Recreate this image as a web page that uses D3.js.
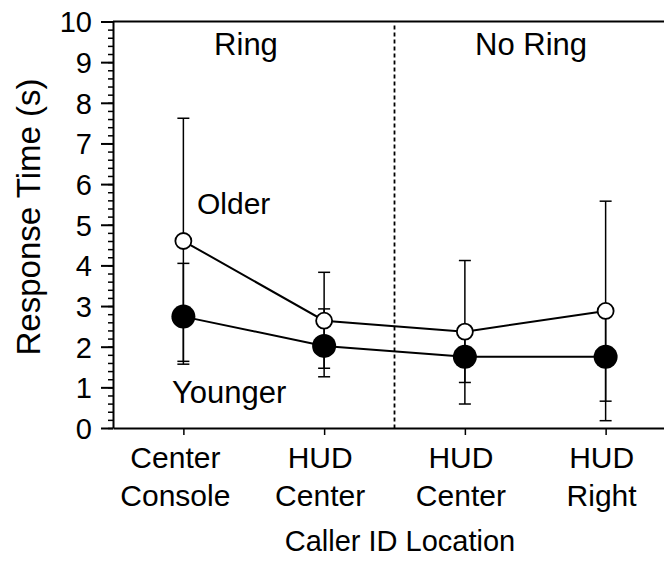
<!DOCTYPE html>
<html>
<head>
<meta charset="utf-8">
<script src="https://cdn.jsdelivr.net/npm/d3@7"></script>
<style>
  html, body { margin: 0; padding: 0; background: #fff; }
  svg { display: block; }
  text { font-family: "Liberation Sans", Arial, Helvetica, sans-serif; fill: #000; }
</style>
</head>
<body>
<svg id="chart" width="664" height="562"></svg>
<script>
// ---- data ----
const categoriesLine1 = ["Center", "HUD", "HUD", "HUD"];
const categoriesLine2 = ["Console", "Center", "Center", "Right"];
const olderMean  = [4.60, 2.64, 2.37, 2.88];
const olderUpper = [7.62, 3.83, 4.12, 5.58];
const olderLower = [1.57, 1.47, 0.59, 0.18];
const youngerMean  = [2.74, 2.02, 1.75, 1.75];
const youngerUpper = [4.05, 2.93, 2.38, 2.84];
const youngerLower = [1.64, 1.26, 1.12, 0.66];
const yTicks = [0, 1, 2, 3, 4, 5, 6, 7, 8, 9, 10];
const groupLabels = ["Ring", "No Ring"];
const seriesLabels = ["Older", "Younger"];
const yTitle = "Response Time (s)";
const xTitle = "Caller ID Location";

// ---- layout ----
const svg = d3.select("#chart");
const pLeft = 113, pRight = 676, pTop = 21.5, pBottom = 428;
const idx = d3.range(categoriesLine1.length);
const x = d3.scalePoint().domain(idx).range([pLeft, pRight]).padding(0.5);
const y = d3.scaleLinear().domain([0, 10]).range([pBottom, pTop]);
const FS = 30;

// frame top line
svg.append("line").attr("x1", pLeft).attr("x2", pRight).attr("y1", y(10)).attr("y2", y(10))
  .attr("stroke", "#000").attr("stroke-width", 2);

// y minor ticks
const yMinor = svg.append("g").attr("transform", `translate(${pLeft},0)`)
  .call(d3.axisLeft(y).tickValues(d3.range(0, 10.01, 0.2)).tickSize(5).tickFormat(""));
yMinor.select(".domain").remove();
yMinor.selectAll("line").attr("stroke", "#000").attr("stroke-width", 1.5);

// y axis major
const yAx = svg.append("g").attr("transform", `translate(${pLeft},0)`)
  .call(d3.axisLeft(y).tickValues(yTicks).tickSize(12).tickSizeOuter(0).tickPadding(9).tickFormat(d3.format("d")));
yAx.select(".domain").attr("stroke", "#000").attr("stroke-width", 2);
yAx.selectAll(".tick line").attr("stroke", "#000").attr("stroke-width", 2);
yAx.selectAll(".tick text").style("font-size", "29px").style("font-family", "'Liberation Sans', Arial, sans-serif").attr("dy", "0.36em");

// x axis
const xAx = svg.append("g").attr("transform", `translate(0,${pBottom})`)
  .call(d3.axisBottom(x).tickSize(7).tickSizeOuter(0).tickFormat(""));
xAx.select(".domain").attr("stroke", "#000").attr("stroke-width", 2);
xAx.selectAll(".tick line").attr("stroke", "#000").attr("stroke-width", 1.5);

// x category labels
idx.forEach(i => {
  const dx = i === 0 ? -8 : -4;
  svg.append("text").attr("x", x(i) + dx).attr("y", 468).attr("text-anchor", "middle")
    .style("font-size", FS + "px").text(categoriesLine1[i]);
  svg.append("text").attr("x", x(i) + dx).attr("y", 506).attr("text-anchor", "middle")
    .style("font-size", FS + "px").text(categoriesLine2[i]);
});

// axis titles
svg.append("text").attr("x", 400).attr("y", 551).attr("text-anchor", "middle")
  .style("font-size", "29px").text(xTitle);
svg.append("text").attr("transform", "translate(40,217) rotate(-90)").attr("text-anchor", "middle")
  .style("font-size", "33px").text(yTitle);

// dashed separator
const sepX = (x(1) + x(2)) / 2;
svg.append("line").attr("x1", sepX).attr("x2", sepX).attr("y1", y(10) + 4).attr("y2", pBottom)
  .attr("stroke", "#000").attr("stroke-width", 1.8).attr("stroke-dasharray", "4,3");

// group labels
svg.append("text").attr("x", 246).attr("y", 55).attr("text-anchor", "middle")
  .style("font-size", "31px").text(groupLabels[0]);
svg.append("text").attr("x", 531).attr("y", 55).attr("text-anchor", "middle")
  .style("font-size", "31px").text(groupLabels[1]);

// series labels
svg.append("text").attr("x", 197).attr("y", 214).style("font-size", FS + "px").text(seriesLabels[0]);
svg.append("text").attr("x", 172).attr("y", 403).style("font-size", "31px").text(seriesLabels[1]);

// error bars
function errorBars(lower, upper) {
  const g = svg.append("g").attr("stroke", "#000").attr("stroke-width", 1.5);
  idx.forEach(i => {
    g.append("line").attr("x1", x(i)).attr("x2", x(i)).attr("y1", y(lower[i])).attr("y2", y(upper[i]));
    [lower[i], upper[i]].forEach(v => {
      g.append("line").attr("x1", x(i) - 6).attr("x2", x(i) + 6).attr("y1", y(v)).attr("y2", y(v));
    });
  });
}
errorBars(youngerLower, youngerUpper);
errorBars(olderLower, olderUpper);

// lines
const line = d3.line().x((d, i) => x(i)).y(d => y(d));
svg.append("path").datum(youngerMean).attr("d", line).attr("fill", "none").attr("stroke", "#000").attr("stroke-width", 2);
svg.append("path").datum(olderMean).attr("d", line).attr("fill", "none").attr("stroke", "#000").attr("stroke-width", 2);

// markers
svg.append("g").selectAll("circle").data(youngerMean).join("circle")
  .attr("cx", (d, i) => x(i)).attr("cy", d => y(d)).attr("r", 12).attr("fill", "#000");
svg.append("g").selectAll("circle").data(olderMean).join("circle")
  .attr("cx", (d, i) => x(i)).attr("cy", d => y(d)).attr("r", 8).attr("fill", "#fff")
  .attr("stroke", "#000").attr("stroke-width", 1.8);
</script>
</body>
</html>
